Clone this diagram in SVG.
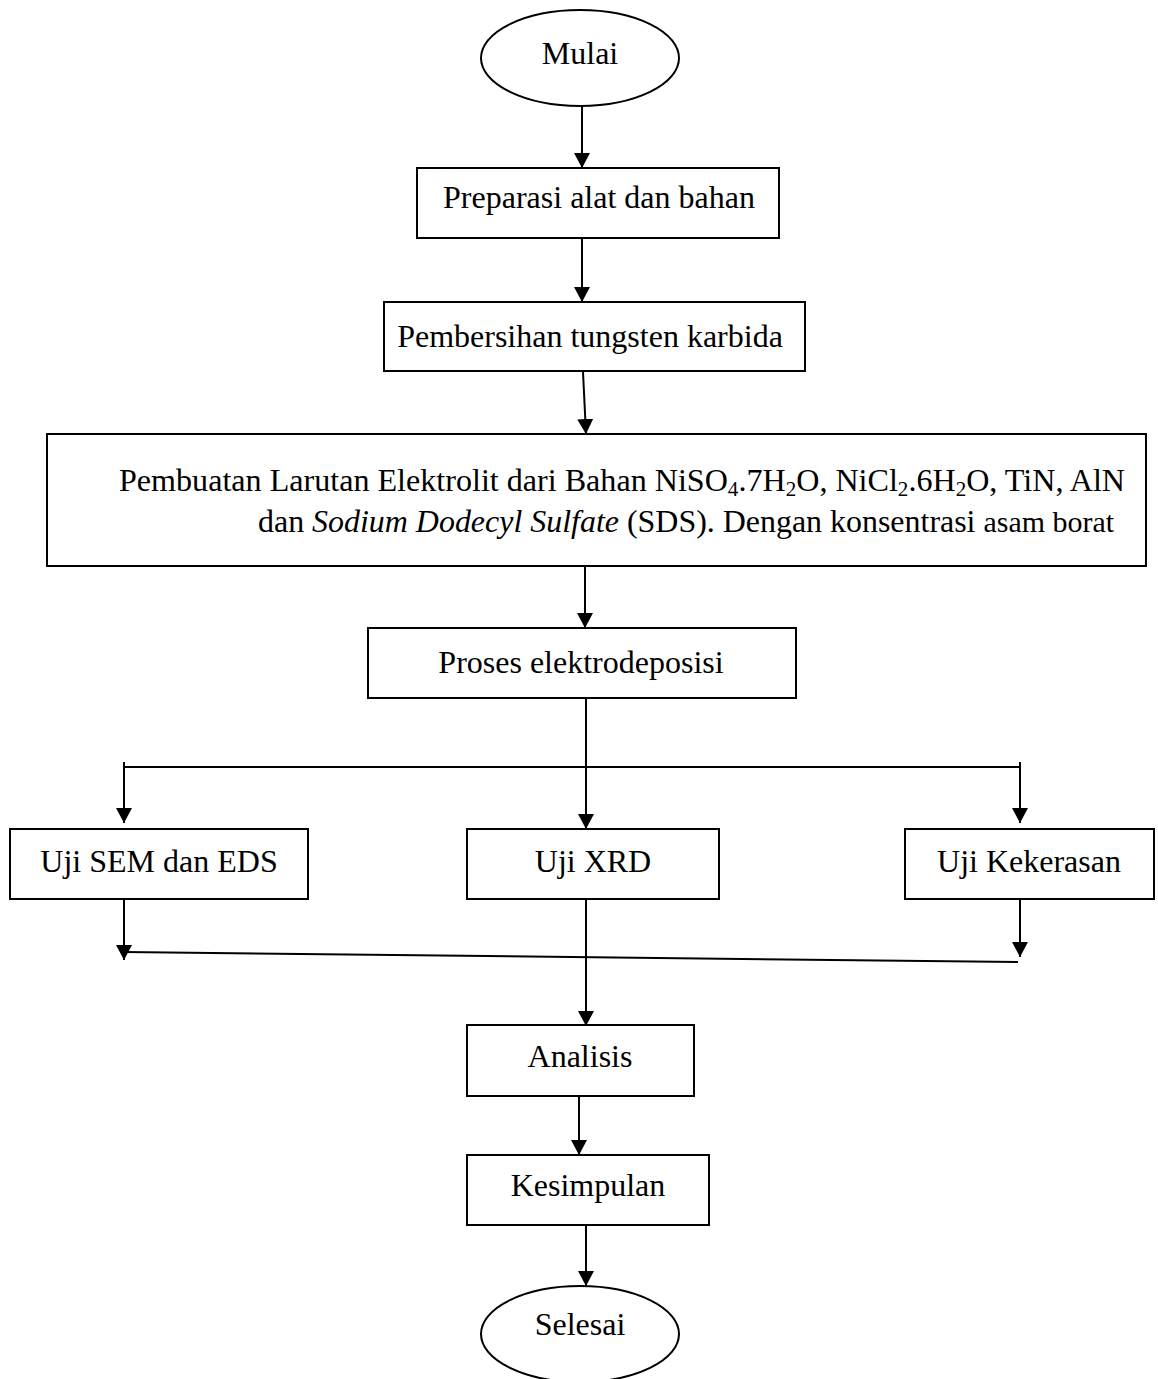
<svg xmlns="http://www.w3.org/2000/svg" width="1158" height="1379" viewBox="0 0 1158 1379">
<style>
.box{fill:#fff;stroke:#000;stroke-width:2}
.t{font-family:"Liberation Serif","Times New Roman",serif;font-size:32px;fill:#000}
.c{stroke:#000;stroke-width:2;fill:none}
</style>
<defs>
<marker id="ah" markerUnits="userSpaceOnUse" markerWidth="15" markerHeight="16" refX="15" refY="8" orient="auto">
<path d="M0,0 L15,8 L0,16 z" fill="#000"/>
</marker>
</defs>
<g id="connectors">
<line class="c" x1="582" y1="106" x2="582" y2="168" marker-end="url(#ah)"/>
<line class="c" x1="582" y1="238" x2="582" y2="302" marker-end="url(#ah)"/>
<line class="c" x1="583" y1="372" x2="586" y2="434" marker-end="url(#ah)"/>
<line class="c" x1="585" y1="566" x2="585" y2="628" marker-end="url(#ah)"/>
<line class="c" x1="586" y1="698" x2="586" y2="829" marker-end="url(#ah)"/>
<line class="c" x1="124" y1="767" x2="1019" y2="767"/>
<line class="c" x1="124" y1="762" x2="124" y2="823" marker-end="url(#ah)"/>
<line class="c" x1="1020" y1="762" x2="1020" y2="823" marker-end="url(#ah)"/>
<line class="c" x1="124" y1="899" x2="124" y2="960" marker-end="url(#ah)"/>
<line class="c" x1="1020" y1="899" x2="1020" y2="957" marker-end="url(#ah)"/>
<line class="c" x1="124" y1="952" x2="1018" y2="962"/>
<line class="c" x1="586" y1="899" x2="586" y2="1026" marker-end="url(#ah)"/>
<line class="c" x1="579" y1="1090" x2="579" y2="1155" marker-end="url(#ah)"/>
<line class="c" x1="586" y1="1222" x2="586" y2="1286" marker-end="url(#ah)"/>
</g>
<g id="mulai">
<ellipse class="box" cx="580" cy="58" rx="99" ry="48"/>
<text class="t" x="580" y="64" text-anchor="middle">Mulai</text>
</g>
<g id="preparasi">
<rect class="box" x="417" y="168" width="362" height="70"/>
<text class="t" x="599" y="208" text-anchor="middle">Preparasi alat dan bahan</text>
</g>
<g id="pembersihan">
<rect class="box" x="384" y="302" width="421" height="69"/>
<text class="t" x="590" y="347" text-anchor="middle">Pembersihan tungsten karbida</text>
</g>
<g id="pembuatan">
<rect class="box" x="47" y="434" width="1099" height="132"/>
<text class="t" x="119" y="491" textLength="1006" lengthAdjust="spacingAndGlyphs">Pembuatan Larutan Elektrolit dari Bahan NiSO<tspan font-size="21" dy="5">4</tspan><tspan dy="-5">.7H</tspan><tspan font-size="21" dy="5">2</tspan><tspan dy="-5">O, NiCl</tspan><tspan font-size="21" dy="5">2</tspan><tspan dy="-5">.6H</tspan><tspan font-size="21" dy="5">2</tspan><tspan dy="-5">O, TiN, AlN</tspan></text>
<text class="t" x="258" y="532" textLength="856" lengthAdjust="spacingAndGlyphs">dan <tspan font-style="italic">Sodium Dodecyl Sulfate</tspan> (SDS). Dengan konsentrasi <tspan font-size="30">asam borat</tspan></text>
</g>
<g id="proses">
<rect class="box" x="368" y="628" width="428" height="70"/>
<text class="t" x="581" y="673" text-anchor="middle">Proses elektrodeposisi</text>
</g>
<g id="sem">
<rect class="box" x="10" y="829" width="298" height="70"/>
<text class="t" x="159" y="872" text-anchor="middle">Uji SEM dan EDS</text>
</g>
<g id="xrd">
<rect class="box" x="467" y="829" width="252" height="70"/>
<text class="t" x="593" y="872" text-anchor="middle">Uji XRD</text>
</g>
<g id="kekerasan">
<rect class="box" x="905" y="829" width="249" height="70"/>
<text class="t" x="1029" y="872" text-anchor="middle">Uji Kekerasan</text>
</g>
<g id="analisis">
<rect class="box" x="467" y="1025" width="227" height="71"/>
<text class="t" x="580" y="1067" text-anchor="middle">Analisis</text>
</g>
<g id="kesimpulan">
<rect class="box" x="467" y="1155" width="242" height="70"/>
<text class="t" x="588" y="1196" text-anchor="middle">Kesimpulan</text>
</g>
<g id="selesai">
<ellipse class="box" cx="580" cy="1334" rx="99" ry="48"/>
<text class="t" x="580" y="1335" text-anchor="middle">Selesai</text>
</g>
</svg>
